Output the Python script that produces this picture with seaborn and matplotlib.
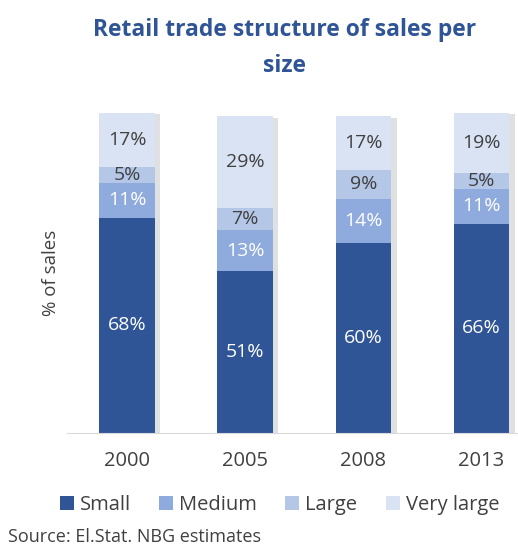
import matplotlib.pyplot as plt
import matplotlib.patheffects as pe
from matplotlib.patches import Patch
import numpy as np
import pandas as pd
import seaborn as sns

years = ['2000', '2005', '2008', '2013']
small = [68, 51, 60, 66]
medium = [11, 13, 14, 11]
large = [5, 7, 9, 5]
very_large = [17, 29, 17, 19]

series_names = ['Small', 'Medium', 'Large', 'Very large']
series_vals = [small, medium, large, very_large]
colors = ['#2F5597', '#8FAADC', '#B4C7E7', '#DAE3F3']
label_colors = ['white', 'white', '#404040', '#404040']

sns.set_style('white')
plt.rcParams['font.family'] = ['Open Sans', 'DejaVu Sans']

fig = plt.figure(figsize=(5.18, 5.46), dpi=100)
ax = fig.add_axes([0.129, 0.207, 0.871, 0.586])

cum = np.cumsum(np.array(series_vals), axis=0)
# draw from the top of the stack down so each layer covers the next
for i in range(len(series_names) - 1, -1, -1):
    df = pd.DataFrame({'year': years, 'value': cum[i]})
    sns.barplot(data=df, x='year', y='value', color=colors[i], width=0.47,
                saturation=1, linewidth=0, edgecolor='none', ax=ax)
    if i == 3:
        for p in ax.patches:
            p.set_path_effects([pe.SimplePatchShadow(offset=(4, -1), alpha=0.22, rho=0.5),
                                pe.Normal()])

for i, vals in enumerate(series_vals):
    bottoms = cum[i] - np.array(vals)
    for j, v in enumerate(vals):
        ax.text(j, bottoms[j] + v / 2, f'{v}%', ha='center', va='center',
                fontsize=14, color=label_colors[i], zorder=10)

ax.set_xlim(-0.51, 3.31)
ax.set_ylim(0, 101)
ax.set_yticks([])
ax.set_xlabel('')
ax.set_ylabel('% of sales', fontsize=13.5, color='#404040', labelpad=5)
ax.tick_params(axis='x', length=0, labelsize=14.5, labelcolor='#404040', pad=13)
for s in ['top', 'right', 'left']:
    ax.spines[s].set_visible(False)
ax.spines['bottom'].set_color('#D9D9D9')

fig.text(0.55, 0.945, 'Retail trade structure of sales per', ha='center', va='center',
         fontsize=16.5, fontweight='bold', color='#2F5597')
fig.text(0.55, 0.88, 'size', ha='center', va='center',
         fontsize=16.5, fontweight='bold', color='#2F5597')

handles = [Patch(facecolor=c, edgecolor='none') for c in colors]
fig.legend(handles, series_names, loc='center left', bbox_to_anchor=(0.115, 0.075), ncol=4,
           frameon=False, fontsize=14.5, handlelength=0.7, handleheight=0.7,
           handletextpad=0.3, columnspacing=1.4, labelcolor='#404040',
           borderaxespad=0, borderpad=0)

fig.text(0.015, 0.017, 'Source: El.Stat. NBG estimates', ha='left', va='center',
         fontsize=13, color='#404040')

fig.savefig('out.png', dpi=100)
